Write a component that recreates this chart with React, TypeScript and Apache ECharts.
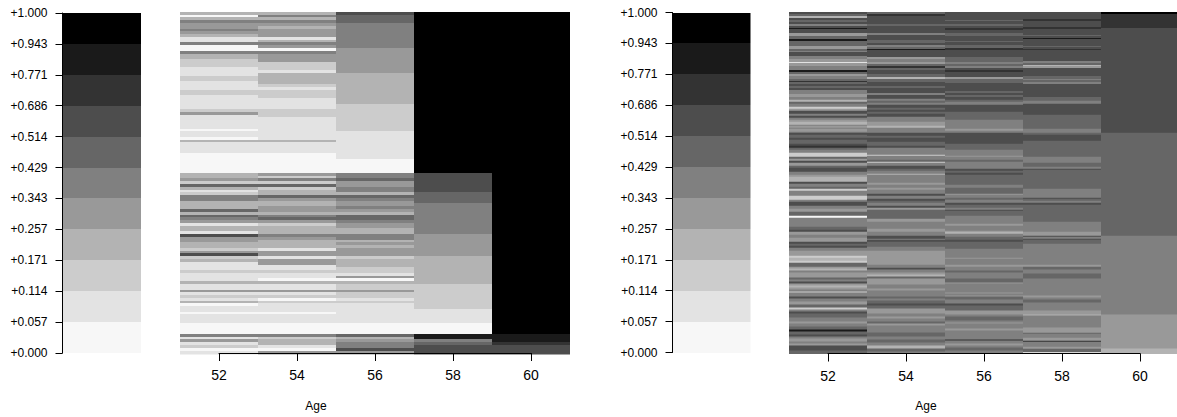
import React, { useEffect, useRef } from "react";
import * as echarts from "echarts";

const greys = ["#000000", "#1a1a1a", "#333333", "#4d4d4d", "#666666", "#808080", "#999999", "#b3b3b3", "#cccccc", "#e3e3e3", "#f7f7f7"];
const legendLabels = ["+0.000", "+0.057", "+0.114", "+0.171", "+0.257", "+0.343", "+0.429", "+0.514", "+0.686", "+0.771", "+0.943", "+1.000"];
const legendLevels = [10, 9, 8, 7, 6, 5, 4, 3, 2, 1, 0];
const ages = [52, 54, 56, 58, 60];
const xTitle = "Age";

// Each band is [row count, grey level], listed from the top row down.
const leftRowCount = 342;
const left52 = [[3,7],[2,10],[3,7],[3,5],[6,6],[2,5],[3,6],[3,7],[5,9],[3,5],[6,10],[3,5],[5,7],[8,8],[9,9],[5,8],[9,9],[5,8],[14,9],[3,8],[3,6],[14,9],[2,10],[6,9],[3,10],[2,7],[11,9],[20,10],
  [5,7],[3,6],[3,8],[3,4],[3,7],[2,9],[3,8],[6,5],[8,7],[3,4],[3,7],[2,4],[3,5],[3,6],[3,9],[5,7],[3,9],[3,3],[3,6],
  [2,6],[6,7],[3,8],[2,6],[3,3],[3,8],[3,7],[8,9],[3,8],[8,9],[3,7],[6,9],[2,6],[3,9],[3,8],[3,9],[2,7],[3,10],[6,9],[2,10],[9,9],[11,10],[3,5],[2,9],[3,6],[3,9],[3,8],[3,10],[3,9]];
const left54 = [[3,7],[2,5],[3,7],[3,5],[3,6],[3,7],[8,6],[3,9],[2,7],[3,5],[3,6],[3,10],[3,5],[8,6],[8,8],[3,9],[11,7],[3,8],[3,9],[8,8],[11,9],[8,8],[23,9],[2,7],[11,9],[20,10],
  [3,6],[2,8],[3,5],[3,8],[3,4],[3,8],[2,7],[3,7],[3,4],[3,6],[5,7],[6,6],[3,7],[2,5],[3,4],[3,6],[3,8],[8,7],[3,5],[3,6],
  [8,7],[3,9],[5,6],[3,9],[6,6],[5,9],[3,8],[5,9],[3,10],[3,7],[6,9],[2,6],[3,9],[3,8],[3,10],[2,8],[9,9],[2,10],[9,9],[11,10],[3,5],[2,8],[6,7],[3,9],[3,10],[3,6]];
const left56 = [[3,3],[8,4],[25,5],[25,6],[31,7],[27,8],[28,9],[14,10],
  [5,5],[3,4],[6,6],[5,5],[3,7],[3,4],[3,5],[5,6],[3,5],[3,6],[3,7],[5,4],[3,5],[5,6],[6,7],[6,5],
  [2,7],[3,6],[3,7],[8,6],[3,8],[8,7],[6,8],[3,9],[2,6],[3,10],[3,7],[6,8],[2,6],[6,8],[3,9],[2,8],[20,9],[11,10],[3,4],[2,7],[3,6],[6,5],[3,3],[3,6]];
const left58 = [[161,0],[19,3],[11,4],[31,5],[22,6],[28,7],[25,8],[14,9],[11,10],[5,1],[3,5],[3,4],[9,3]];
const left60 = [[322,0],[8,1],[3,2],[9,3]];

const rightRowCount = 1026;
const right52 = [[6,3],[6,4],[6,7],[6,3],[6,4],[6,3],[6,5],[6,3],[3,1],[12,3],[9,6],[9,4],[6,1],[15,4],[9,6],[6,4],[3,5],[12,3],[9,5],[9,6],[3,9],[9,6],[12,5],[6,1],[6,4],[6,6],[9,5],[6,4],[3,2],[6,4],[6,3],[6,4],[6,3],[12,5],[9,6],[9,5],[6,7],[6,4],[9,5],[6,8],[6,6],[9,3],[6,5],[6,3],[6,5],[6,6],[9,7],
  [3,5],[6,6],[3,5],[9,6],[3,5],[6,3],[9,4],[6,3],[12,4],[6,3],[6,2],[6,4],[9,5],[12,8],[6,4],[6,6],[6,3],[9,6],[6,4],[12,3],[9,5],[6,6],[15,7],[6,3],[9,5],[6,4],[6,8],[15,5],[12,8],[6,5],[12,3],[9,5],[9,6],[12,4],[6,10],[27,5],[9,4],[6,3],[9,6],[9,5],[6,6],
  [6,6],[6,3],[6,4],[6,3],[9,5],[15,6],[6,8],[9,7],[6,8],[12,4],[6,6],[6,7],[6,5],[15,6],[6,4],[6,5],[6,3],[6,6],[6,7],[6,6],[6,5],[3,8],[12,5],[6,3],[9,5],[9,6],[9,4],[6,8],[6,5],[6,3],[12,4],[12,5],[6,6],[9,5],[9,4],[6,1],[9,4],[6,3],[6,5],[9,6],[6,5],[6,6],[15,3],[9,4]];
const right54 = [[6,4],[6,2],[24,3],[6,4],[21,3],[6,5],[15,3],[9,4],[6,3],[6,5],[6,4],[3,1],[21,3],[6,6],[9,5],[6,6],[6,4],[6,2],[6,4],[12,3],[9,4],[6,7],[9,4],[12,3],[6,4],[15,3],[6,5],[12,3],[6,5],[6,4],[6,5],[9,3],[6,4],[6,3],[6,4],[9,3],[15,5],[9,6],
  [3,6],[6,7],[15,5],[9,3],[6,4],[12,3],[12,4],[6,3],[21,5],[3,8],[12,5],[6,4],[3,8],[9,5],[9,3],[6,4],[9,5],[3,7],[24,5],[6,6],[9,5],[6,6],[12,5],[6,3],[9,5],[6,3],[6,4],[9,5],[6,3],[6,6],[27,4],[9,6],[21,5],[9,6],[12,5],[9,3],[3,5],
  [6,3],[15,4],[12,5],[42,6],[9,5],[6,3],[9,5],[6,6],[6,7],[6,4],[18,6],[12,5],[6,6],[18,5],[6,4],[6,5],[9,4],[6,3],[9,4],[15,6],[9,5],[6,6],[9,5],[6,4],[6,6],[21,5],[12,4],[9,5],[9,4],[9,5],[9,7],[9,4],[6,5]];
const right56 = [[24,3],[3,4],[9,3],[6,4],[6,3],[6,2],[9,3],[9,4],[15,3],[3,4],[9,3],[9,4],[6,2],[21,3],[15,4],[6,5],[6,4],[6,5],[6,3],[6,2],[15,3],[6,6],[12,4],[24,3],[6,4],[6,3],[6,4],[9,3],[6,4],[9,5],[21,3],[24,4],[15,5],
  [12,5],[6,6],[6,5],[33,3],[18,4],[18,5],[3,6],[9,5],[6,4],[21,5],[6,3],[6,4],[6,3],[30,4],[9,5],[18,4],[3,6],[9,5],[6,4],[9,5],[6,3],[9,4],[6,5],[3,3],[15,4],[24,5],[6,6],[15,5],[3,6],[6,7],[9,5],[9,4],
  [6,3],[21,4],[27,5],[3,6],[18,5],[6,6],[12,5],[6,4],[18,5],[12,4],[3,6],[27,5],[3,6],[6,5],[3,6],[9,4],[12,5],[6,3],[15,4],[12,6],[6,5],[12,4],[6,5],[3,6],[15,5],[6,6],[27,5],[3,2],[9,5],[6,6],[6,5],[9,4],[9,5]];
const right58 = [[21,3],[6,2],[18,3],[6,2],[18,3],[3,4],[6,3],[3,1],[21,3],[3,4],[6,3],[3,2],[33,3],[6,5],[6,4],[3,7],[6,6],[24,3],[9,4],[3,5],[6,4],[6,5],[39,3],[12,4],[9,5],[33,3],[42,4],[12,5],[6,4],[18,3],[48,4],[18,5],[12,4],[6,5],[3,3],[57,4],[27,5],[3,3],[6,4],[6,5],[6,3],[51,4],[30,5],[12,6],[3,3],[6,5],[3,3],[12,4],[63,5],[6,6],[9,4],[12,5],[15,4],[51,5],[6,6],[6,5],[9,4],[24,5],[12,6],[3,7],[36,5],[16,6],[3,4],[12,5],[9,6],[3,2],[15,5],[6,6],[9,4]];
const right60 = [[6,0],[42,2],[315,3],[309,4],[237,5],[102,6],[15,7]];

function bandRows(columns: number[][][]) {
  const rows: number[][] = [];
  columns.forEach((bands, c) => {
    let start = 0;
    bands.forEach(([count, level]) => {
      rows.push([ages[c], start, start + count, level]);
      start += count;
    });
  });
  return rows;
}

const renderBand = (_: any, api: any) => {
  const a = api.coord([api.value(0) - 1, api.value(1)]);
  const b = api.coord([api.value(0) + 1, api.value(2)]);
  return {
    type: "rect",
    shape: { x: a[0], y: a[1], width: b[0] - a[0], height: b[1] - a[1] + 0.4 },
    style: { fill: greys[api.value(3)], stroke: "none" },
  };
};

const renderKey = (_: any, api: any) => {
  const a = api.coord([0, api.value(0) + 1]);
  const b = api.coord([1, api.value(0)]);
  return {
    type: "rect",
    shape: { x: a[0], y: Math.round(a[1]), width: b[0] - a[0], height: Math.round(b[1]) - Math.round(a[1]) },
    style: { fill: greys[api.value(1)], stroke: "none" },
  };
};

const font = "'Liberation Sans', Arial, sans-serif";
const keyRows = legendLevels.map((l, i) => [i, l]);

function keyParts(gridIndex: number, left: number, top: number, width: number) {
  return {
    grid: { left, width, top, height: 340, containLabel: false },
    xAxis: { gridIndex, type: "value", min: 0, max: 1, show: false },
    yAxis: {
      gridIndex, type: "value", min: 0, max: 11, interval: 1, z: 10,
      axisLine: { show: true, lineStyle: { color: "#000", width: 1 } },
      axisTick: { show: true, length: 7, lineStyle: { color: "#000", width: 1 } },
      axisLabel: { margin: 15, fontSize: 12, color: "#000", fontFamily: font, formatter: (v: number) => legendLabels[v] },
      splitLine: { show: false },
    },
    series: { type: "custom", xAxisIndex: gridIndex, yAxisIndex: gridIndex, data: keyRows, renderItem: renderKey, silent: true, clip: false },
  };
}

function heatParts(gridIndex: number, left: number, rowCount: number, height: number, offset: number, columns: number[][][]) {
  return {
    grid: { left, width: 312, top: 12, height, containLabel: false },
    xAxis: {
      gridIndex, type: "value", min: 52, max: 60, interval: 2, z: 10, offset,
      axisLine: { show: true, onZero: false, lineStyle: { color: "#000", width: 1 } },
      axisTick: { show: true, length: 8, lineStyle: { color: "#000", width: 1 } },
      axisLabel: { margin: 15, fontSize: 14, color: "#000", fontFamily: font },
      splitLine: { show: false },
    },
    yAxis: { gridIndex, type: "value", min: 0, max: rowCount, inverse: true, show: false },
    series: { type: "custom", xAxisIndex: gridIndex, yAxisIndex: gridIndex, data: bandRows(columns), renderItem: renderBand, silent: true, clip: false },
  };
}

export default function App() {
  const ref = useRef<HTMLDivElement>(null);
  useEffect(() => {
    const chart = echarts.init(ref.current!, null, { renderer: "svg" });
    const parts = [
      keyParts(0, 62.5, 13, 78.5),
      heatParts(1, 219, leftRowCount, 342, -1, [left52, left54, left56, left58, left60]),
      keyParts(2, 672.5, 12.5, 78),
      heatParts(3, 828, rightRowCount, 341.5, 0, [right52, right54, right56, right58, right60]),
    ];
    chart.setOption({
      animation: false,
      backgroundColor: "#fff",
      grid: parts.map((p) => p.grid),
      xAxis: parts.map((p) => p.xAxis),
      yAxis: parts.map((p) => p.yAxis),
      series: parts.map((p) => p.series),
      graphic: [316, 926].map((x) => ({
        type: "text", x, y: 405.5,
        style: { text: xTitle, fontSize: 12, fontFamily: font, fill: "#000", textAlign: "center", textVerticalAlign: "middle" },
      })),
    });
    return () => chart.dispose();
  }, []);
  return <div ref={ref} style={{ position: "absolute", left: 0, top: 0, width: 1177, height: 417 }} />;
}
